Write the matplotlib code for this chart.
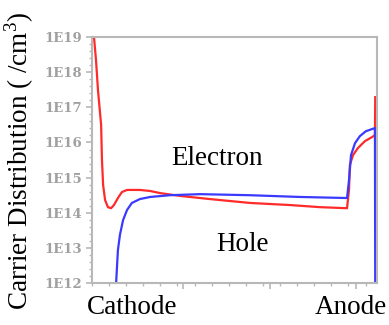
import numpy as np
import matplotlib
matplotlib.use("Agg")
import matplotlib.pyplot as plt
from matplotlib.ticker import FixedLocator, NullFormatter

plt.rcParams['font.family'] = ['Liberation Serif', 'DejaVu Serif']
plt.rcParams['mathtext.fontset'] = 'custom'
plt.rcParams['mathtext.rm'] = 'Liberation Serif'

# Electron (red) - position fraction along device, log10 concentration
electron_x = [0.0, 0.007, 0.014, 0.021, 0.032, 0.035, 0.039, 0.046, 0.056, 0.067, 0.077,
              0.091, 0.105, 0.123, 0.168, 0.204, 0.239, 0.309, 0.414, 0.554, 0.695, 0.80,
              0.895, 0.902, 0.905, 0.916, 0.933, 0.958, 0.982, 0.993, 0.994]
electron_log = [19.0, 19.0, 18.35, 17.49, 16.50, 15.50, 14.79, 14.36, 14.16, 14.13, 14.22,
                14.42, 14.59, 14.65, 14.65, 14.62, 14.56, 14.48, 14.39, 14.28, 14.22, 14.16,
                14.13, 14.65, 15.36, 15.64, 15.84, 16.04, 16.15, 16.21, 17.29]

# Hole (blue)
hole_x = [0.084, 0.088, 0.091, 0.098, 0.109, 0.123, 0.140, 0.168, 0.204, 0.274, 0.379,
          0.554, 0.730, 0.895, 0.902, 0.909, 0.923, 0.940, 0.961, 0.982, 0.993, 0.994]
hole_log = [11.9, 12.51, 12.94, 13.37, 13.79, 14.08, 14.28, 14.39, 14.45, 14.50, 14.53,
            14.50, 14.45, 14.42, 14.93, 15.64, 15.98, 16.18, 16.32, 16.38, 16.41, 11.9]

y_decades = [12, 13, 14, 15, 16, 17, 18, 19]
y_tick_labels = ["1E12", "1E13", "1E14", "1E15", "1E16", "1E17", "1E18", "1E19"]

fig = plt.figure(figsize=(3.89, 3.25), dpi=100)
ax = fig.add_axes([0.2365, 0.129, 0.7325, 0.757])

ax.plot(electron_x, 10 ** np.array(electron_log), color='#ff2a2a', lw=1.6)
ax.plot(hole_x, 10 ** np.array(hole_log), color='#3a3aff', lw=1.6)

ax.set_yscale('log')
ax.set_xlim(0, 1)
ax.set_ylim(1e12, 1e19)

ax.yaxis.set_major_locator(FixedLocator([10.0 ** d for d in y_decades]))
ax.set_yticklabels(y_tick_labels)
minor = [10 ** (d + k * 0.2) for d in y_decades[:-1] for k in range(1, 5)]
ax.yaxis.set_minor_locator(FixedLocator(minor))
ax.yaxis.set_minor_formatter(NullFormatter())

ax.xaxis.set_major_locator(FixedLocator([0.32, 0.625, 0.925]))
ax.set_xticklabels(["", "", ""])
ax.xaxis.set_minor_locator(FixedLocator(list(np.arange(0.0, 1.0, 0.06))))

gray = '#b8b8b8'
for s in ax.spines.values():
    s.set_color(gray)
    s.set_linewidth(1.5)
ax.tick_params(axis='both', which='major', color=gray, length=4, width=1.2,
               labelsize=9.5, labelcolor='#a0a0a0', pad=3)
ax.tick_params(axis='both', which='minor', color=gray, length=2, width=1.0)
for lab in ax.get_yticklabels():
    lab.set_fontweight('bold')
    lab.set_family('DejaVu Serif')

ax.text(0.44, 0.508, "Electron", transform=ax.transAxes, fontsize=19.5,
        ha='center', va='center', color='black')
ax.text(0.53, 0.155, "Hole", transform=ax.transAxes, fontsize=19.5,
        ha='center', va='center', color='black')

fig.text(0.34, 0.055, "Cathode", fontsize=19.5, ha='center', va='center')
fig.text(0.903, 0.055, "Anode", fontsize=19.5, ha='center', va='center')
fig.text(0.05, 0.505, r"Carrier Distribution ( /cm$^3$)", fontsize=19.5,
         rotation=90, ha='center', va='center')

fig.savefig("out.png", dpi=100)
